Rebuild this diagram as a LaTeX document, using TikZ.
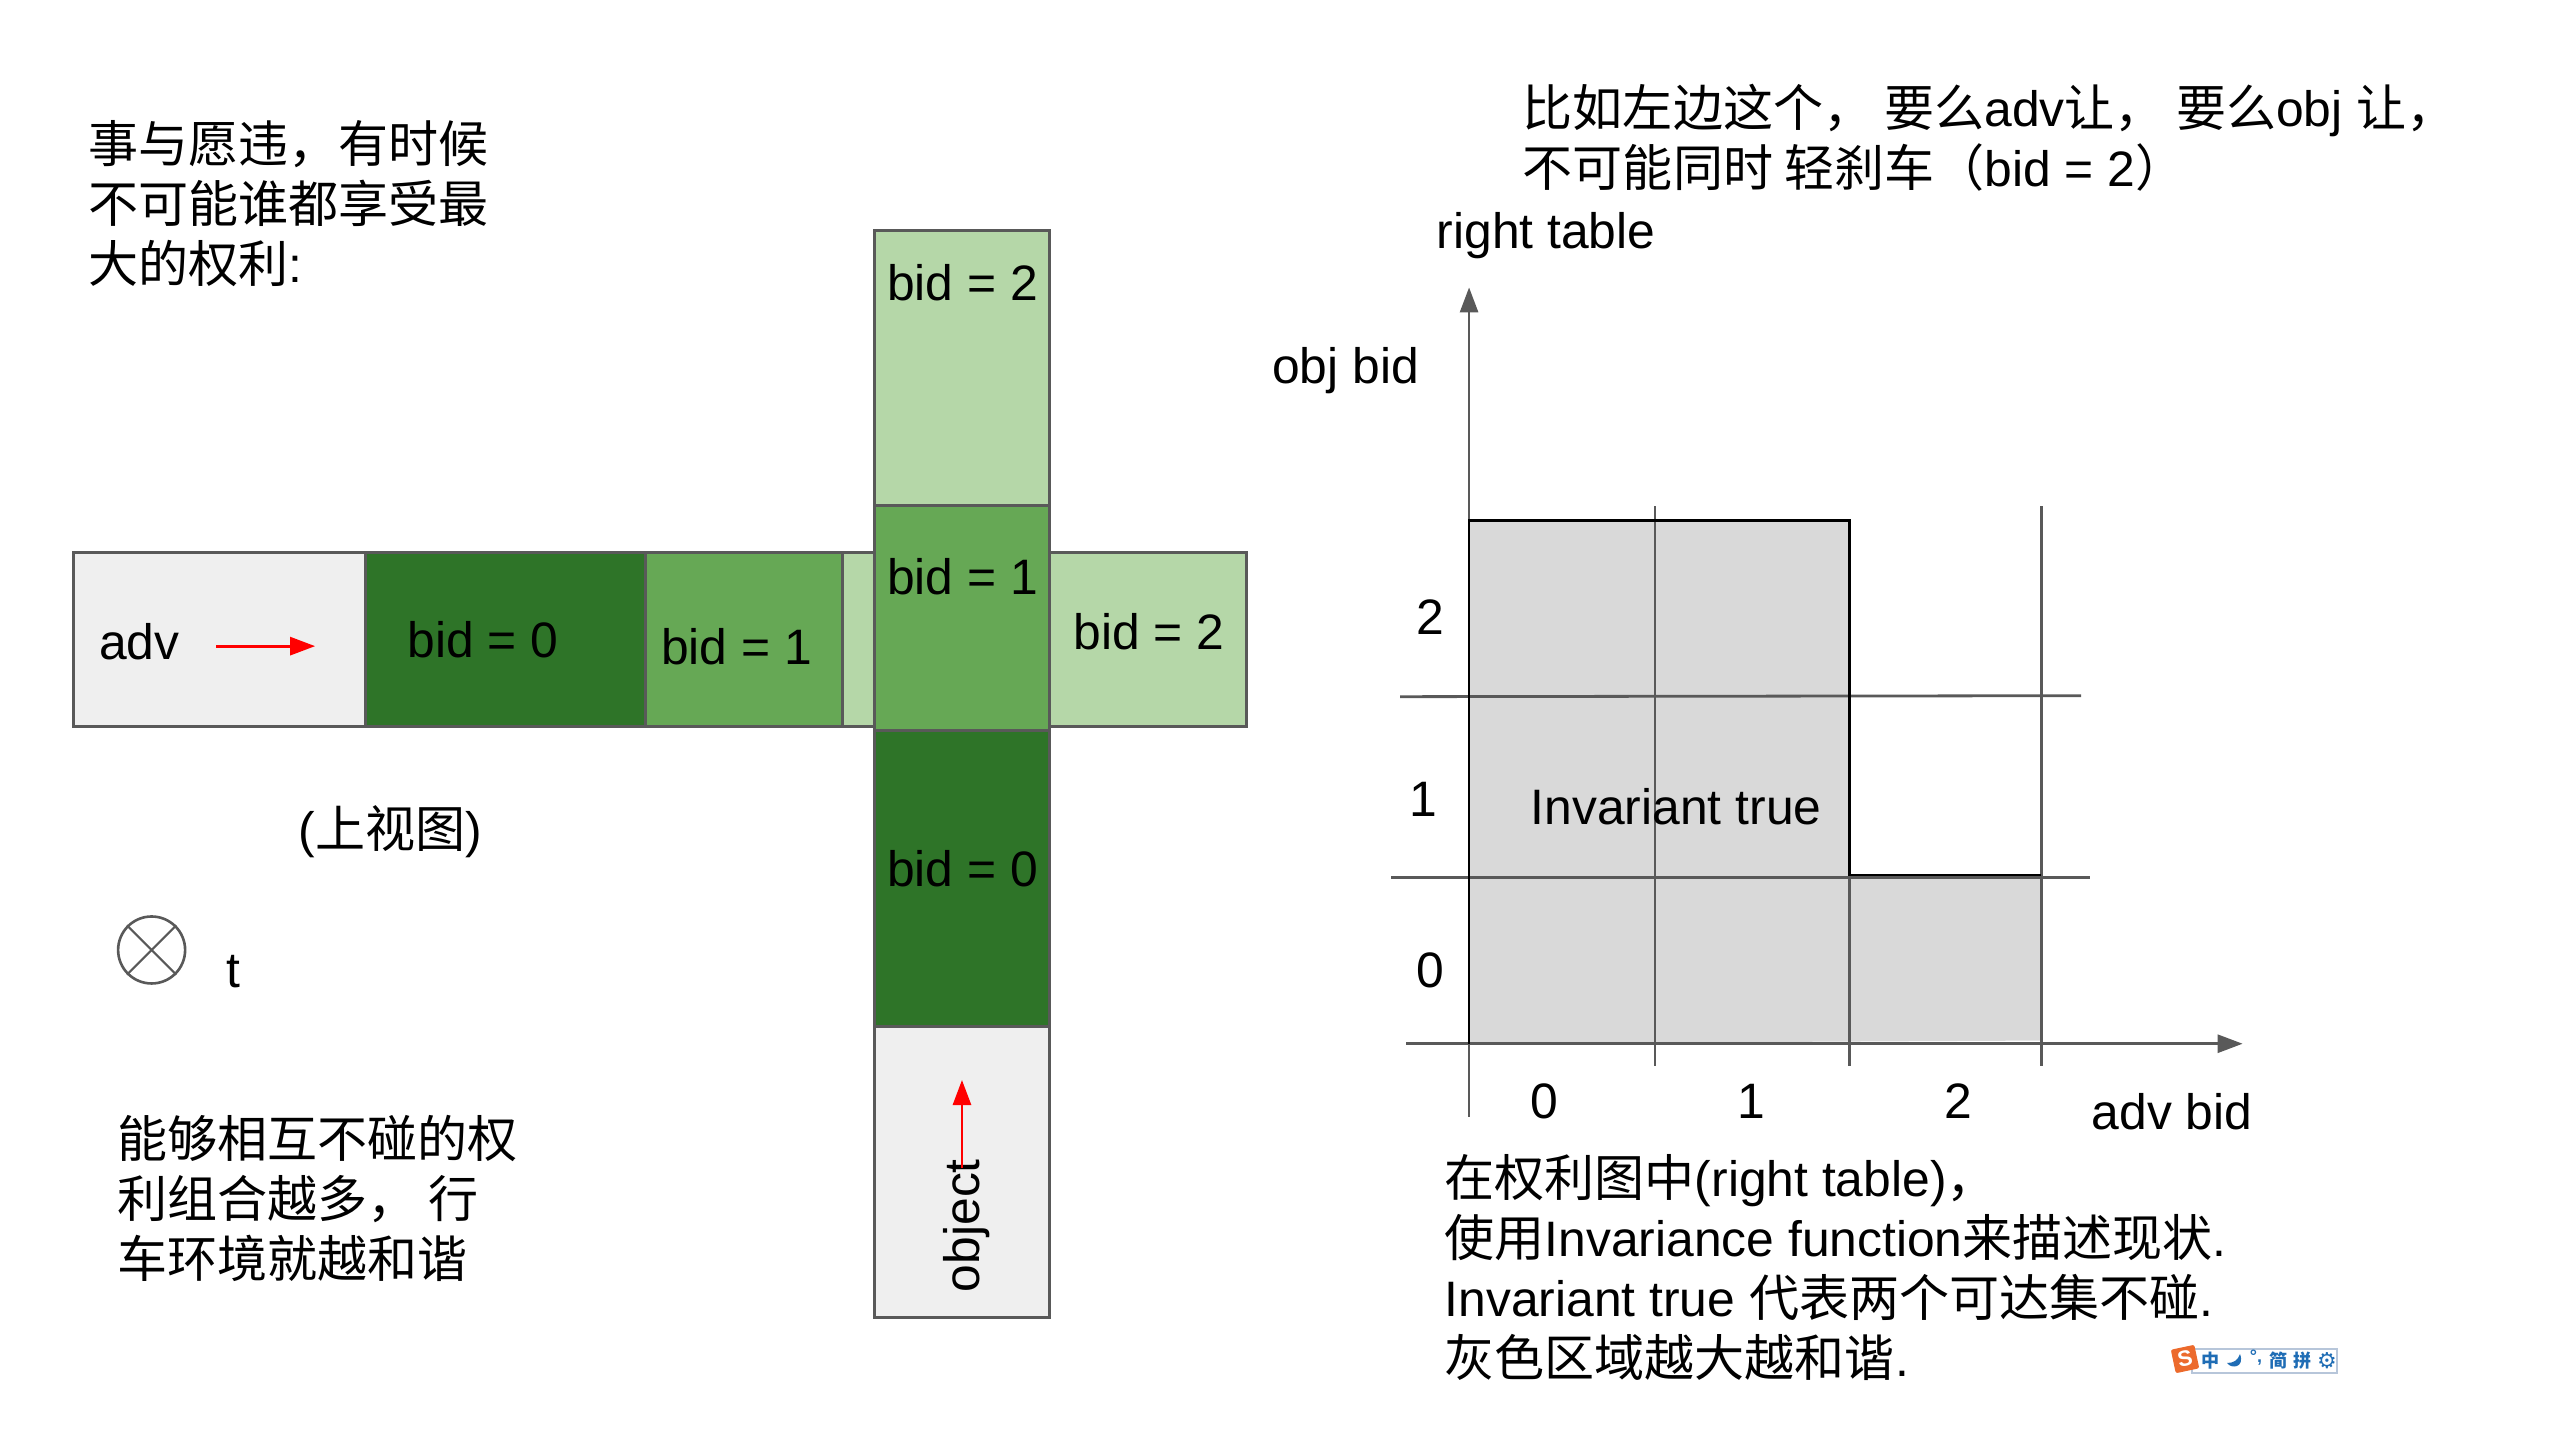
\documentclass[tikz,border=0pt]{standalone}
\usepackage{fontspec}
\usetikzlibrary{arrows.meta}
\setmainfont{Liberation Sans}
\newfontfamily\cjkf[Scale=1.005]{Noto Sans CJK SC}
\newfontfamily\symf{DejaVu Sans}
\newcommand{\zh}[1]{{\cjkf #1}}
\definecolor{dkgreen}{HTML}{2E7428}
\definecolor{mdgreen}{HTML}{66A855}
\definecolor{ltgreen}{HTML}{B5D7A8}
\definecolor{boxgray}{HTML}{EFEFEF}
\definecolor{areagray}{HTML}{D9D9D9}
\definecolor{rule}{HTML}{595959}
\definecolor{imeblue}{HTML}{1F6DB5}
\definecolor{imeorange}{HTML}{EC6A2C}
\definecolor{imeborder}{HTML}{B7C6DA}
\tikzset{
  x=.991pt,y=-.991pt,
  txt/.style={anchor=base west,inner sep=0pt,font=\fontsize{49.8}{60}\selectfont,text=black,align=left},
  cell/.style={draw=rule,line width=3pt},
  gridline/.style={draw=rule,line width=2.8pt},
  edge/.style={draw=black,line width=2.6pt},
  axis/.style={draw=rule,line width=2.8pt,-{Triangle[length=25pt,width=18pt]}},
  redarrow/.style={draw=red,line width=2.8pt,-{Triangle[length=25pt,width=18pt]}},
  ime/.style={inner sep=0pt,text=imeblue,font=\fontsize{18}{18}\selectfont\bfseries}
}
\begin{document}
\begin{tikzpicture}
\useasboundingbox (0,0) rectangle (2583.25,1453.08);
% horizontal strip
\path[cell,fill=boxgray] (74.5,557.5) rectangle (368.6,733);
\path[cell,fill=ltgreen] (850,557.5) rectangle (1257.4,733);
\path[cell,fill=mdgreen] (650.9,557.5) rectangle (850,733);
\path[cell,fill=dkgreen] (368.6,557.5) rectangle (650.9,733);
% vertical strip
\path[cell,fill=ltgreen] (882.6,233) rectangle (1058.9,510.3);
\path[cell,fill=boxgray] (882.6,1036) rectangle (1058.9,1329.6);
\path[cell,fill=dkgreen] (882.6,737.3) rectangle (1058.9,1036);
\path[cell,fill=mdgreen] (882.6,510.3) rectangle (1058.9,737.3);
% strip labels
\node[txt] (adv) at (100,665) {adv};
\node[txt] (h0) at (411,663) {bid = 0};
\node[txt] (h1) at (667,671) {bid = 1};
\node[txt] (h2) at (1083,655) {bid = 2};
\node[txt] (v2) at (895,303) {bid = 2};
\node[txt] (v1) at (895,599.5) {bid = 1};
\node[txt] (v0) at (895,895) {bid = 0};
\node[txt,rotate=90,anchor=base west] (obj) at (988.5,1304) {object};
% red arrows
\coordinate (ra1) at (218,652);
\coordinate (ra2) at (318,652);
\draw[redarrow] (ra1) -- (ra2);
\coordinate (rb1) at (970.7,1178.5);
\coordinate (rb2) at (970.7,1089.8);
\draw[redarrow] (rb1) -- (rb2);
% left texts
\node[txt] (tl) at (89,285.5) {\zh{事与愿违，有时候}\\\zh{不可能谁都享受最}\\\zh{大的权利}:};
\node[txt] (top) at (301,855) {(\zh{上视图})};
\node[txt] (tt) at (228,996) {t};
\node[txt] (bl) at (118,1289.5) {\zh{能够相互不碰的权}\\\zh{利组合越多，\ 行}\\\zh{车环境就越和谐}};
% t symbol
\node[circle,draw=rule,line width=2.6pt,minimum size=67pt,inner sep=0pt] (tc) at (153,958.6) {};
\draw[rule,line width=2.2pt] (tc.north west) -- (tc.south east) (tc.north east) -- (tc.south west);
% chart
\path[fill=areagray] (1482.4,525) -- (1866.5,525) -- (1866.5,884) -- (2059.8,884) -- (2059.8,1050) -- (1866.5,1051) -- (1482.4,1053) -- cycle;
\coordinate (yb) at (1482.4,1127);
\coordinate (yt) at (1482.4,290);
\coordinate (xl) at (1419,1053.2);
\coordinate (xr) at (2263,1053.2);
\draw[gridline] (1670,510.6) -- (1670,1075.7);
\draw[gridline] (1866.5,884) -- (1866.5,1075.7);
\draw[gridline] (2059.8,510.6) -- (2059.8,1075.7);
\draw[gridline] (1412.7,703) -- (2100,702);
\draw[gridline] (1404,885.3) -- (2109,885.3);
\draw[axis] (yb) -- (yt);
\draw[axis] (xl) -- (xr);
\draw[edge] (1482.4,1053) -- (1482.4,525) -- (1866.5,525) -- (1866.5,883) -- (2059.8,883);
\node[txt] (c2) at (1429.5,640) {2};
\node[txt] (c1) at (1422.5,824) {1};
\node[txt] (c0) at (1429.5,996) {0};
\node[txt] (a0) at (1544.5,1129) {0};
\node[txt] (a1) at (1753,1129) {1};
\node[txt] (a2) at (1962,1129) {2};
\node[txt] (advb) at (2110.5,1140) {adv bid};
\node[txt] (objb) at (1283.5,386.5) {obj bid};
\node[txt] (rt) at (1449.5,251) {right table};
\node[txt] (inv) at (1544.5,832) {Invariant true};
% right texts
\node[txt] (tr) at (1536.5,188) {\zh{比如左边这个，\ 要么}adv\zh{让，\ 要么}obj \zh{让，}\\\zh{不可能同时 轻刹车（}bid = 2\zh{）}};
\node[txt] (br) at (1457.5,1388.5) {\zh{在权利图中}(right table)\zh{，}\\\zh{使用}Invariance function\zh{来描述现状}.\\Invariant true \zh{代表两个可达集不碰}.\\\zh{灰色区域越大越和谐}.};
% input method bar
\begin{scope}[x=1pt,y=-1pt]
\path[draw=imeborder,line width=1.2pt,fill=white] (2192,1349) rectangle (2337,1373);
\node[draw=none,fill=imeorange,rotate=12,minimum size=24pt,rounded corners=2pt,inner sep=0pt,text=white,font=\fontsize{22}{22}\selectfont\bfseries] (ime) at (2185,1359) {S};
\node[ime] (i1) at (2211,1361) {\zh{中}};
\path[fill=imeblue] (2240,1354) .. controls (2238,1360) and (2234,1363) .. (2227,1363) .. controls (2231,1369) and (2245,1368) .. (2240,1354) -- cycle;
\node[ime] (i2) at (2256,1358) {°,};
\node[ime] (i3) at (2279,1361) {\zh{简}};
\node[ime] (i4) at (2303,1361) {\zh{拼}};
\node[ime,font=\fontsize{22}{22}\selectfont] (i5) at (2327,1361) {\symf ⚙};
\end{scope}
\end{tikzpicture}
\end{document}
